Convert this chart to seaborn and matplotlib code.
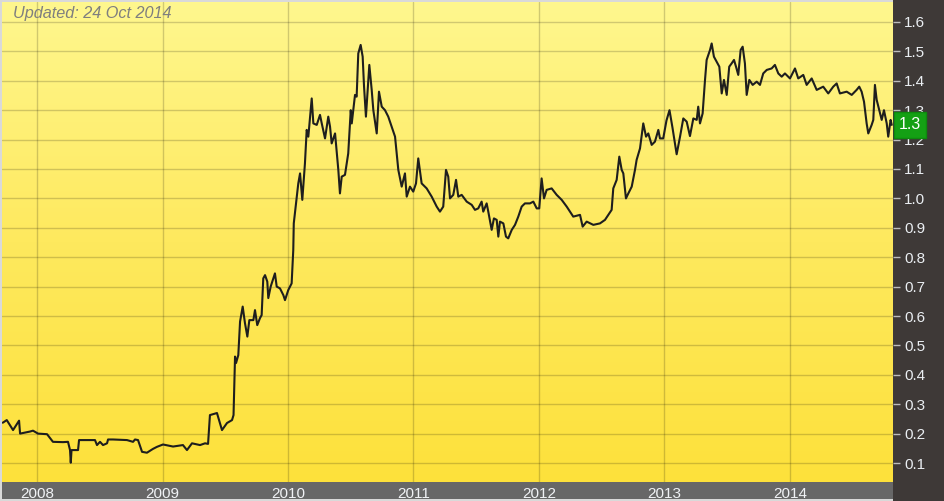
import numpy as np
import pandas as pd
import matplotlib
matplotlib.use("Agg")
import matplotlib.pyplot as plt
from matplotlib.patches import Rectangle
from matplotlib.colors import LinearSegmentedColormap
import matplotlib.transforms as mtransforms
import seaborn as sns

# ---- data (decimal year, price) ----
years = [
    2007.727, 2007.759, 2007.809, 2007.857, 2007.865, 2007.944, 2007.968, 2008.008, 2008.080, 2008.127,
    2008.207, 2008.247, 2008.263, 2008.269, 2008.275, 2008.327, 2008.335, 2008.462, 2008.478, 2008.502,
    2008.526, 2008.558, 2008.566, 2008.606, 2008.717, 2008.765, 2008.781, 2008.805, 2008.837, 2008.876,
    2008.924, 2008.956, 2009.004, 2009.084, 2009.163, 2009.195, 2009.235, 2009.299, 2009.339, 2009.363,
    2009.378, 2009.434, 2009.474, 2009.514, 2009.554, 2009.566, 2009.578, 2009.586, 2009.604, 2009.618,
    2009.639, 2009.657, 2009.676, 2009.692, 2009.724, 2009.737, 2009.755, 2009.777, 2009.790, 2009.803,
    2009.817, 2009.835, 2009.843, 2009.862, 2009.896, 2009.910, 2009.936, 2009.963, 2009.976, 2010.002,
    2010.029, 2010.042, 2010.046, 2010.082, 2010.096, 2010.114, 2010.135, 2010.149, 2010.162, 2010.189,
    2010.202, 2010.229, 2010.255, 2010.269, 2010.295, 2010.321, 2010.335, 2010.348, 2010.375, 2010.401,
    2010.414, 2010.428, 2010.454, 2010.480, 2010.500, 2010.508, 2010.534, 2010.547, 2010.560, 2010.579,
    2010.595, 2010.606, 2010.621, 2010.648, 2010.667, 2010.680, 2010.707, 2010.725, 2010.747, 2010.773,
    2010.799, 2010.826, 2010.853, 2010.879, 2010.906, 2010.932, 2010.946, 2010.972, 2010.998, 2011.020,
    2011.038, 2011.065, 2011.105, 2011.145, 2011.185, 2011.211, 2011.237, 2011.259, 2011.277, 2011.291,
    2011.317, 2011.339, 2011.357, 2011.384, 2011.424, 2011.464, 2011.490, 2011.516, 2011.543, 2011.556,
    2011.583, 2011.596, 2011.623, 2011.641, 2011.663, 2011.676, 2011.689, 2011.716, 2011.737, 2011.755,
    2011.783, 2011.809, 2011.835, 2011.862, 2011.888, 2011.928, 2011.955, 2011.982, 2012.002, 2012.021,
    2012.040, 2012.061, 2012.101, 2012.141, 2012.181, 2012.221, 2012.273, 2012.327, 2012.348, 2012.380,
    2012.433, 2012.486, 2012.526, 2012.552, 2012.579, 2012.592, 2012.619, 2012.640, 2012.659, 2012.672,
    2012.693, 2012.712, 2012.739, 2012.765, 2012.778, 2012.805, 2012.831, 2012.853, 2012.871, 2012.898,
    2012.924, 2012.951, 2012.964, 2012.990, 2013.016, 2013.040, 2013.064, 2013.097, 2013.124, 2013.150,
    2013.177, 2013.203, 2013.230, 2013.257, 2013.269, 2013.283, 2013.304, 2013.323, 2013.336, 2013.363,
    2013.376, 2013.394, 2013.416, 2013.437, 2013.456, 2013.474, 2013.496, 2013.516, 2013.535, 2013.554,
    2013.570, 2013.588, 2013.607, 2013.623, 2013.641, 2013.655, 2013.676, 2013.703, 2013.735, 2013.761,
    2013.787, 2013.815, 2013.854, 2013.880, 2013.907, 2013.934, 2013.960, 2014.000, 2014.040, 2014.066,
    2014.106, 2014.133, 2014.173, 2014.213, 2014.265, 2014.305, 2014.345, 2014.372, 2014.398, 2014.452,
    2014.492, 2014.531, 2014.552, 2014.571, 2014.590, 2014.611, 2014.624, 2014.651, 2014.664, 2014.677,
    2014.691, 2014.712, 2014.731, 2014.749, 2014.771, 2014.783, 2014.802, 2014.811,
]
prices = [
    0.237, 0.246, 0.212, 0.244, 0.200, 0.207, 0.210, 0.200, 0.198, 0.172,
    0.171, 0.172, 0.144, 0.101, 0.144, 0.144, 0.178, 0.178, 0.161, 0.172,
    0.161, 0.167, 0.180, 0.180, 0.178, 0.172, 0.180, 0.178, 0.138, 0.135,
    0.148, 0.155, 0.163, 0.156, 0.161, 0.144, 0.167, 0.161, 0.167, 0.165,
    0.263, 0.270, 0.212, 0.236, 0.246, 0.263, 0.462, 0.440, 0.467, 0.581,
    0.632, 0.576, 0.530, 0.586, 0.586, 0.620, 0.569, 0.593, 0.603, 0.728,
    0.739, 0.717, 0.661, 0.700, 0.745, 0.700, 0.694, 0.671, 0.654, 0.688,
    0.711, 0.824, 0.915, 1.051, 1.085, 0.995, 1.119, 1.233, 1.210, 1.340,
    1.255, 1.250, 1.284, 1.255, 1.204, 1.278, 1.244, 1.187, 1.221, 1.097,
    1.017, 1.074, 1.080, 1.153, 1.300, 1.255, 1.352, 1.346, 1.493, 1.522,
    1.482, 1.380, 1.278, 1.454, 1.369, 1.300, 1.221, 1.363, 1.312, 1.300,
    1.278, 1.244, 1.210, 1.097, 1.040, 1.085, 1.006, 1.040, 1.023, 1.051,
    1.136, 1.051, 1.034, 1.006, 0.972, 0.955, 0.972, 1.097, 1.074, 1.000,
    1.012, 1.063, 1.006, 1.012, 0.989, 0.978, 0.961, 0.966, 0.989, 0.955,
    0.983, 0.955, 0.893, 0.932, 0.927, 0.870, 0.921, 0.915, 0.870, 0.864,
    0.893, 0.910, 0.938, 0.972, 0.983, 0.983, 0.989, 0.966, 0.966, 1.068,
    1.000, 1.029, 1.034, 1.012, 0.995, 0.972, 0.938, 0.944, 0.904, 0.921,
    0.910, 0.915, 0.927, 0.944, 0.961, 1.034, 1.063, 1.142, 1.097, 1.085,
    1.000, 1.017, 1.040, 1.097, 1.131, 1.170, 1.255, 1.210, 1.221, 1.182,
    1.193, 1.233, 1.204, 1.204, 1.265, 1.300, 1.240, 1.150, 1.210, 1.272,
    1.261, 1.212, 1.272, 1.267, 1.312, 1.255, 1.289, 1.403, 1.471, 1.505,
    1.527, 1.482, 1.465, 1.448, 1.357, 1.403, 1.352, 1.448, 1.459, 1.471,
    1.448, 1.420, 1.505, 1.516, 1.459, 1.352, 1.403, 1.386, 1.397, 1.386,
    1.425, 1.437, 1.442, 1.454, 1.425, 1.414, 1.425, 1.408, 1.442, 1.408,
    1.420, 1.386, 1.408, 1.369, 1.380, 1.357, 1.380, 1.391, 1.357, 1.363,
    1.352, 1.369, 1.380, 1.363, 1.329, 1.255, 1.221, 1.250, 1.267, 1.386,
    1.335, 1.300, 1.267, 1.300, 1.255, 1.210, 1.267, 1.250,
]
year_ticks = [2008, 2009, 2010, 2011, 2012, 2013, 2014]
price_ticks = [0.1, 0.2, 0.3, 0.4, 0.5, 0.6, 0.7, 0.8, 0.9, 1.0, 1.1, 1.2, 1.3, 1.4, 1.5, 1.6]
last_label = "1.3"
updated_text = "Updated: 24 Oct 2014"

df = pd.DataFrame({"year": years, "price": prices})

sns.set_theme(style="white")
plt.rcParams["font.family"] = ["Liberation Sans", "DejaVu Sans"]

W, H = 944, 501
fig = plt.figure(figsize=(W / 100, H / 100), dpi=100)
fig.patch.set_facecolor("#3e3937")

# light border frame behind the plot area
fig.patches.append(Rectangle((0, 0), 893 / W, 1, transform=fig.transFigure,
                             facecolor="#d9d9d9", edgecolor="none", zorder=0))
# bottom date band
fig.patches.append(Rectangle((2 / W, 2 / H), 891 / W, 17 / H, transform=fig.transFigure,
                             facecolor="#676767", edgecolor="none", zorder=1))

ax = fig.add_axes([2 / W, 19 / H, 891 / W, 480 / H])
ax.set_zorder(2)

# yellow gradient background
grad = np.linspace(0, 1, 256).reshape(-1, 1)
cmap = LinearSegmentedColormap.from_list("yel", ["#fff78e", "#fee95e", "#fde13b"])
ax.imshow(grad, extent=[0, 1, 0, 1], transform=ax.transAxes, aspect="auto",
          cmap=cmap, origin="upper", zorder=0)

sns.lineplot(data=df, x="year", y="price", ax=ax, color="#1e1e1e", lw=1.5, zorder=3)

ax.set_xlim(2007.721, 2014.821)
ax.set_ylim(0.0354, 1.668)

for yv in price_ticks:
    ax.axhline(yv, color="#000000", alpha=0.18, lw=1, zorder=1)
for xv in year_ticks:
    ax.axvline(xv, color="#000000", alpha=0.18, lw=1, zorder=1)

ax.set_xlabel("")
ax.set_ylabel("")
ax.yaxis.tick_right()
ax.set_yticks(price_ticks)
ax.set_yticklabels([f"{v:.1f}" for v in price_ticks])
ax.tick_params(axis="y", right=True, length=5, width=1, color="#bdbdbd",
               labelsize=11, labelcolor="#eaeef2", pad=3)
ax.set_xticks(year_ticks)
ax.set_xticklabels([str(y) for y in year_ticks])
ax.tick_params(axis="x", bottom=False, length=0, labelsize=11, labelcolor="#f0f2f5", pad=3.5)
for s in ax.spines.values():
    s.set_visible(False)

# updated text
ax.text(0.0125, 0.992, updated_text, transform=ax.transAxes, ha="left", va="top",
        fontsize=11.7, style="italic", color="#7f7f7f", zorder=5)

# last price marker label
trans = mtransforms.blended_transform_factory(ax.transAxes, ax.transData)
ax.text(1.0065, prices[-1], last_label, transform=trans, ha="left", va="center",
        fontsize=11.5, color="white", clip_on=False, zorder=10,
        bbox=dict(boxstyle="square,pad=0.32", facecolor="#14a014", edgecolor="#0e8a0e"))

fig.savefig("out.png", dpi=100, facecolor=fig.get_facecolor())
